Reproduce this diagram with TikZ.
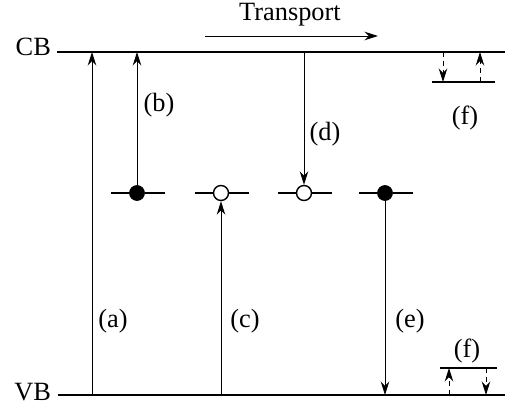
\documentclass[tikz,border=0pt]{standalone}
\usepackage{fontspec}
\setmainfont{Liberation Serif}
\usetikzlibrary{arrows.meta}

\tikzset{
    trans/.style={-{Stealth[length=0.27cm,width=0.17cm]}, line width=0.5pt},
    ftrans/.style={trans, densely dashed},
    band/.style={line width=1.1pt},
    trapline/.style={line width=0.8pt},
    filledtrap/.style={circle, draw, fill=black, inner sep=0pt, minimum size=0.3cm},
    emptytrap/.style={circle, draw, fill=white, line width=0.8pt, inner sep=0pt, minimum size=0.3cm},
    lbl/.style={font=\fontsize{15}{18}\selectfont, inner sep=1pt}
}

\begin{document}
\begin{tikzpicture}[x=0.02cm, y=-0.02cm]
    \useasboundingbox (0,0) rectangle (505,409);

    % Bands
    \coordinate (cbL) at (57,52);
    \coordinate (cbR) at (505,52);
    \coordinate (vbL) at (58,395);
    \coordinate (vbR) at (505,395);
    \draw[band] (cbL) -- (cbR);
    \draw[band] (vbL) -- (vbR);
    \node[lbl, anchor=east] (cb) at (53,47) {CB};
    \node[lbl, anchor=east] (vb) at (53,392) {VB};

    % Transport
    \node[lbl] (tr) at (290,15) {Transport};
    \coordinate (trs) at (205,36);
    \coordinate (tre) at (378,36);
    \draw[trans] (trs) -- (tre);

    % Traps
    \node[filledtrap] (t1) at (137,193) {};
    \node[emptytrap] (t2) at (221,193) {};
    \node[emptytrap] (t3) at (304,193) {};
    \node[filledtrap] (t4) at (385,193) {};
    \foreach \t in {t1,t2,t3,t4} {
        \draw[trapline] (\t.west) -- ++(-18,0);
        \draw[trapline] (\t.east) -- ++(20,0);
    }

    % Transitions
    \coordinate (a0) at (92,395);
    \draw[trans] (a0) -- (a0 |- cbL);
    \draw[trans] (t1) -- (t1 |- cbL);
    \draw[trans] (t2 |- vbL) -- (t2);
    \draw[trans] (t3 |- cbL) -- (t3.north);
    \draw[trans] (t4) -- (t4 |- vbL);

    \node[lbl] (la) at (113,321) {(a)};
    \node[lbl] (lb) at (159,105) {(b)};
    \node[lbl] (lc) at (245,321) {(c)};
    \node[lbl] (ld) at (325,134) {(d)};
    \node[lbl] (le) at (410,321) {(e)};

    % (f) near the conduction band
    \coordinate (fu1) at (432,82);
    \coordinate (fu2) at (495,82);
    \draw[trapline] (fu1) -- (fu2);
    \coordinate (fud) at (443,52);
    \coordinate (fuu) at (480,82);
    \draw[ftrans] (fud) -- (fud |- fu1);
    \draw[ftrans] (fuu) -- (fuu |- cbL);
    \node[lbl] (lf1) at (465,118) {(f)};

    % (f) near the valence band
    \coordinate (fd1) at (440,368);
    \coordinate (fd2) at (497,368);
    \draw[trapline] (fd1) -- (fd2);
    \coordinate (fdu) at (449,395);
    \coordinate (fdd) at (486,368);
    \draw[ftrans] (fdu) -- (fdu |- fd1);
    \draw[ftrans] (fdd) -- (fdd |- vbL);
    \node[lbl] (lf2) at (467,351) {(f)};
\end{tikzpicture}
\end{document}
